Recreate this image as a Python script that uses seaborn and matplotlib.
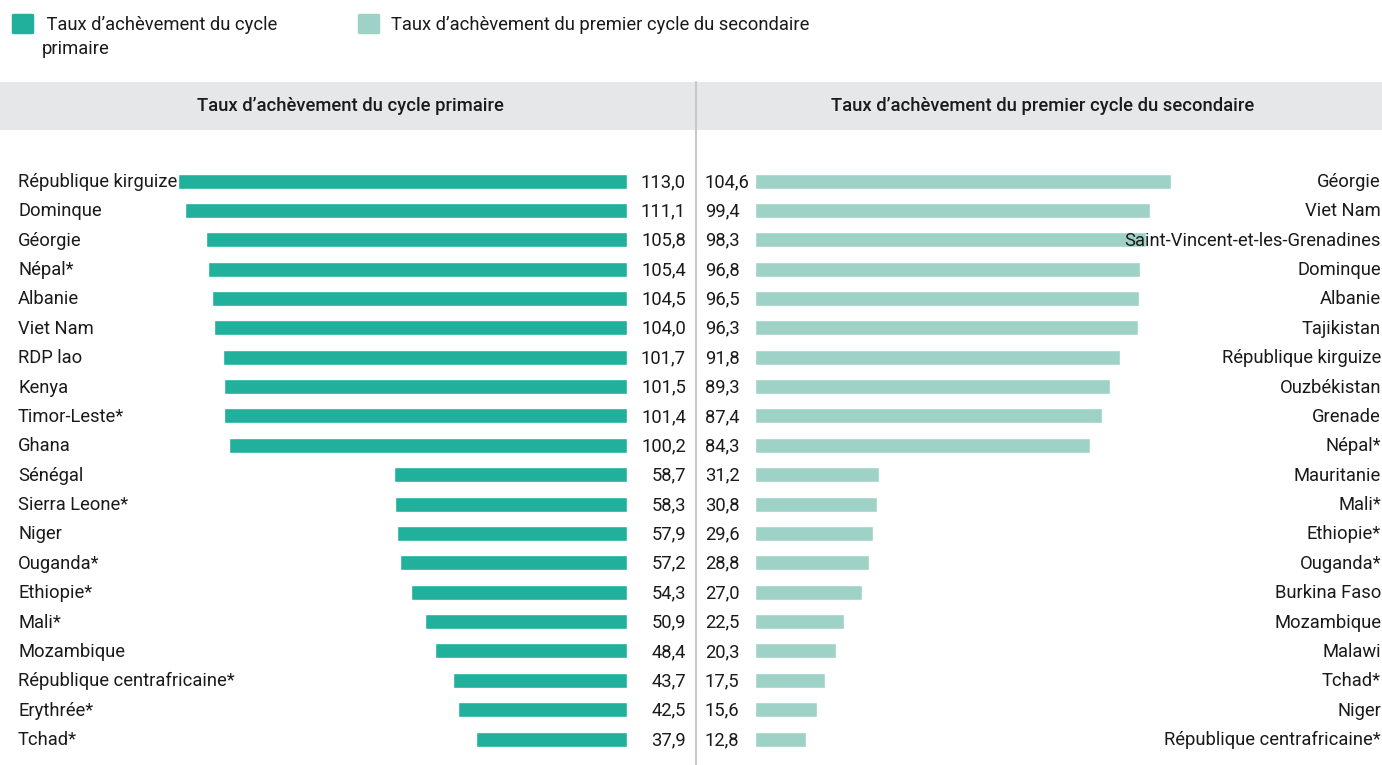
import matplotlib
matplotlib.use("Agg")
import matplotlib.pyplot as plt
import seaborn as sns
from matplotlib.patches import Rectangle, FancyBboxPatch
import matplotlib.lines as mlines

sns.set_theme(style="white")
plt.rcParams['font.family'] = ['Roboto', 'DejaVu Sans']

primary_countries = ["République kirguize", "Dominque", "Géorgie", "Népal*", "Albanie",
                     "Viet Nam", "RDP lao", "Kenya", "Timor-Leste*", "Ghana",
                     "Sénégal", "Sierra Leone*", "Niger", "Ouganda*", "Ethiopie*",
                     "Mali*", "Mozambique", "République centrafricaine*", "Erythrée*", "Tchad*"]
primary_values = [113.0, 111.1, 105.8, 105.4, 104.5, 104.0, 101.7, 101.5, 101.4, 100.2,
                  58.7, 58.3, 57.9, 57.2, 54.3, 50.9, 48.4, 43.7, 42.5, 37.9]

secondary_countries = ["Géorgie", "Viet Nam", "Saint-Vincent-et-les-Grenadines", "Dominque",
                       "Albanie", "Tajikistan", "République kirguize", "Ouzbékistan",
                       "Grenade", "Népal*", "Mauritanie", "Mali*", "Ethiopie*", "Ouganda*",
                       "Burkina Faso", "Mozambique", "Malawi", "Tchad*", "Niger",
                       "République centrafricaine*"]
secondary_values = [104.6, 99.4, 98.3, 96.8, 96.5, 96.3, 91.8, 89.3, 87.4, 84.3,
                    31.2, 30.8, 29.6, 28.8, 27.0, 22.5, 20.3, 17.5, 15.6, 12.8]

title_primary = "Taux d’achèvement du cycle primaire"
title_secondary = "Taux d’achèvement du premier cycle du secondaire"
legend_primary = " Taux d’achèvement du cycle\nprimaire"
legend_secondary = "Taux d’achèvement du premier cycle du secondaire"

c_primary = "#20b09b"
c_secondary = "#9fd2c6"
txt = "#1a1a1a"

W, H = 1382, 765
fig = plt.figure(figsize=(W / 100, H / 100), dpi=100)

def fx(px):
    return px / W

def fy(py):
    return 1 - py / H

# header band
fig.patches.append(Rectangle((0, fy(130)), 1, (130 - 82) / H, transform=fig.transFigure,
                             facecolor="#e6e7e9", edgecolor="none", zorder=0))

scale = 3.975
row0, rowN, nrows = 181, 739, 20
step = (rowN - row0) / (nrows - 1)
ytop = -(row0 - 130) / step
ybot = (nrows - 1) + (765 - rowN) / step
fs = 13.2

# left panel
axL = fig.add_axes([fx(0), fy(765), fx(696), (765 - 130) / H])
sns.barplot(x=primary_values, y=primary_countries, ax=axL, color=c_primary,
            width=15 / step, saturation=1, orient="h")
zeroL = 627
axL.set_xlim(zeroL / scale, -(696 - zeroL) / scale)
axL.set_ylim(ybot, ytop)
axL.axis("off")
for i, (c, v) in enumerate(zip(primary_countries, primary_values)):
    yy = fy(row0 + 1 + i * step)
    fig.text(fx(18), yy, c, ha="left", va="center", fontsize=fs, color=txt, zorder=5)
    fig.text(fx(686), yy, f"{v:.1f}".replace(".", ","), ha="right", va="center",
             fontsize=fs, color=txt, zorder=5)

# right panel
axR = fig.add_axes([fx(696), fy(765), fx(W - 696), (765 - 130) / H])
sns.barplot(x=secondary_values, y=secondary_countries, ax=axR, color=c_secondary,
            width=15 / step, saturation=1, orient="h")
zeroR = 755
axR.set_xlim(-(zeroR - 696) / scale, (W - zeroR) / scale)
axR.set_ylim(ybot, ytop)
axR.axis("off")
for i, (c, v) in enumerate(zip(secondary_countries, secondary_values)):
    yy = fy(row0 + 1 + i * step)
    fig.text(fx(1381), yy, c, ha="right", va="center", fontsize=fs, color=txt, zorder=5)
    fig.text(fx(705), yy, f"{v:.1f}".replace(".", ","), ha="left", va="center",
             fontsize=fs, color=txt, zorder=5)

# separator
fig.lines.append(mlines.Line2D([fx(696), fx(696)], [fy(82), fy(765)], transform=fig.transFigure,
                               color="#c8c8c8", linewidth=1.5, zorder=6))

# headers
fig.text(fx(350), fy(106), title_primary, ha="center", va="center", fontsize=fs,
         color=txt, fontweight="medium")
fig.text(fx(1043), fy(106), title_secondary, ha="center", va="center", fontsize=fs,
         color=txt, fontweight="medium")

# legend
for x0, col in [(12, c_primary), (358, c_secondary)]:
    fig.patches.append(FancyBboxPatch((fx(x0 + 2), fy(33)), 18 / W, 18 / H,
                                      boxstyle="round,pad=0.0016", transform=fig.transFigure,
                                      facecolor=col, edgecolor="none"))
fig.text(fx(42), fy(25), legend_primary.split("\n")[0], ha="left", va="center",
         fontsize=fs, color=txt)
fig.text(fx(42), fy(49), legend_primary.split("\n")[1], ha="left", va="center",
         fontsize=fs, color=txt)
fig.text(fx(391), fy(25), legend_secondary, ha="left", va="center", fontsize=fs, color=txt)

fig.savefig("out.png", dpi=100)
